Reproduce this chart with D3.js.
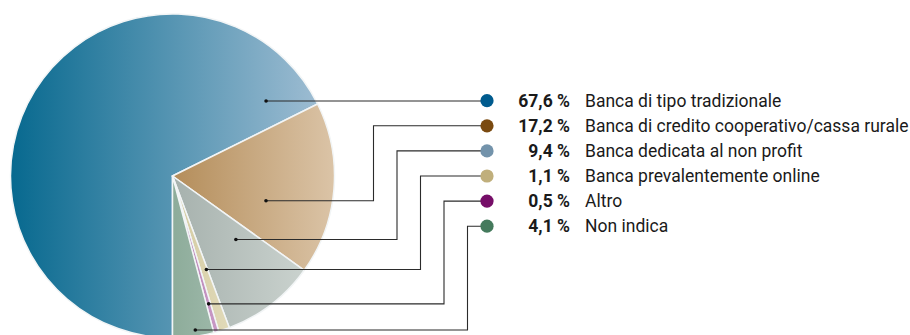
<!DOCTYPE html>
<html>
<head>
<meta charset="utf-8">
<script src="https://cdn.jsdelivr.net/npm/d3@7"></script>
<style>
  html, body { margin: 0; padding: 0; background: #fff; }
  svg { display: block; }
  text { font-family: "Roboto", "Noto Sans", sans-serif; fill: #1a1a1a; }
</style>
</head>
<body>
<svg id="chart" width="910" height="335"></svg>
<script>
// Tipo di banca utilizzata (quote percentuali)
const categories = [
  "Banca di tipo tradizionale",
  "Banca di credito cooperativo/cassa rurale",
  "Banca dedicata al non profit",
  "Banca prevalentemente online",
  "Altro",
  "Non indica"
];
const shares = [67.6, 17.2, 9.4, 1.1, 0.5, 4.1];

// Slice gradients (left -> right) and legend dot colours
const sliceFrom = ["#07698f", "#b48d5a", "#a6b1ad", "#d3caa0", "#b47cb2", "#8dac9a"];
const sliceTo   = ["#9dbcd2", "#dbc4a7", "#cad2ce", "#e1dab9", "#c99ac6", "#9cb7a8"];
const dotColors = ["#005b8e", "#7a4a10", "#7393ab", "#c0af7c", "#760e68", "#447a5c"];

// Where each leader line starts inside its slice: fraction along the slice angle and of the radius
const anchorT = [0.9495, 0.665, 0.28, 0.15, 0.44, 0.43];
const anchorR = [0.74, 0.597, 0.554, 0.614, 0.82, 0.961];

const fmt = v => d3.format(".1f")(v).replace(".", ",") + " %";

const svg = d3.select("#chart");
const cx = 172.5, cy = 176, radius = 162;

const pie = d3.pie().sort(null).value(d => d).startAngle(Math.PI).endAngle(3 * Math.PI);
const arcs = pie(shares);
const arc = d3.arc().innerRadius(0).outerRadius(radius);

const defs = svg.append("defs");
arcs.forEach((a, i) => {
  const g = defs.append("linearGradient").attr("id", "grad" + i)
    .attr("x1", "0%").attr("x2", "100%").attr("y1", "0%").attr("y2", "0%");
  g.append("stop").attr("offset", "0%").attr("stop-color", sliceFrom[i]);
  g.append("stop").attr("offset", "100%").attr("stop-color", sliceTo[i]);
});

const pieG = svg.append("g").attr("transform", `translate(${cx},${cy})`);
pieG.selectAll("path.slice").data(arcs).join("path")
  .attr("class", "slice")
  .attr("d", arc)
  .attr("fill", (d, i) => `url(#grad${i})`)
  .attr("stroke", "#f2f5f6")
  .attr("stroke-width", 1.5)
  .attr("stroke-linejoin", "round");

// Legend layout
const rowY = d3.scalePoint().domain(d3.range(categories.length)).range([100.7, 226.2]);
const dotX = 487, pctX = 570, labelX = 585;
const elbowX = d3.scaleLinear().domain([1, categories.length - 1]).range([373.5, 467.5]);

// Leader lines
arcs.forEach((a, i) => {
  const ang = a.startAngle + anchorT[i] * (a.endAngle - a.startAngle);
  const r = anchorR[i] * radius;
  const ax = cx + r * Math.sin(ang);
  const ay = cy - r * Math.cos(ang);
  const ry = rowY(i);
  let pts;
  if (i === 0) {
    pts = [[ax, ay], [dotX, ay]];
  } else {
    const ex = elbowX(i);
    pts = [[ax, ay], [ex, ay], [ex, ry], [dotX, ry]];
  }
  svg.append("path")
    .attr("d", d3.line()(pts))
    .attr("fill", "none")
    .attr("stroke", "#2b2b2b")
    .attr("stroke-width", 1.1);
  svg.append("circle").attr("cx", ax).attr("cy", ay).attr("r", 1.8).attr("fill", "#111");
});

// Legend rows
const rows = svg.selectAll("g.row").data(categories).join("g")
  .attr("class", "row")
  .attr("transform", (d, i) => `translate(0,${rowY(i)})`);
rows.append("circle").attr("cx", dotX).attr("cy", 0).attr("r", 6.6)
  .attr("fill", (d, i) => dotColors[i]);
rows.append("text").attr("x", pctX).attr("y", 6)
  .attr("text-anchor", "end").attr("font-weight", "bold").attr("font-size", 17.5)
  .text((d, i) => fmt(shares[i]));
rows.append("text").attr("x", labelX).attr("y", 6)
  .attr("font-size", 17.5)
  .text(d => d);
</script>
</body>
</html>
